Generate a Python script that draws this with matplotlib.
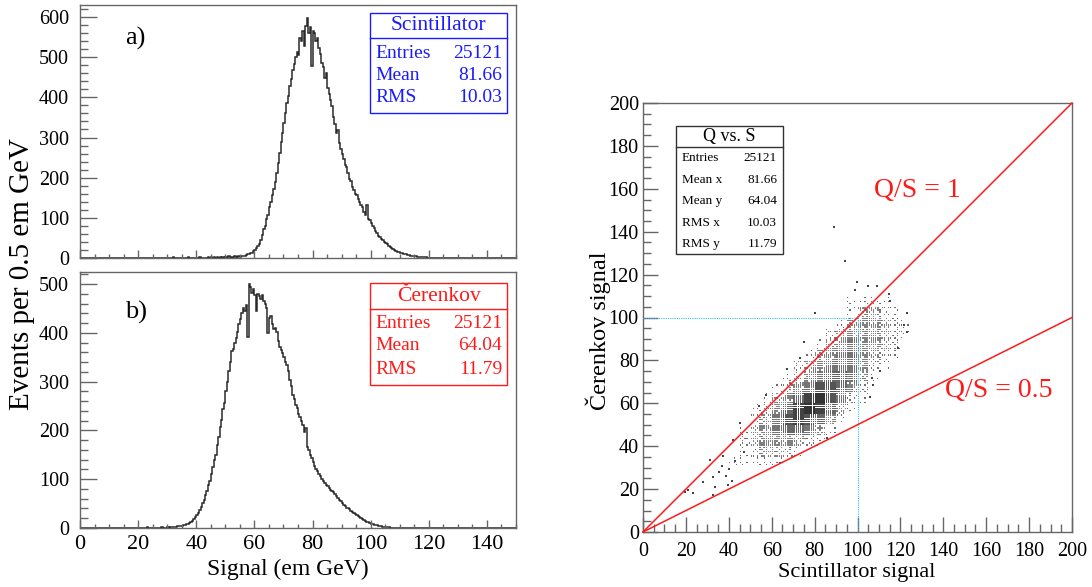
import numpy as np
import matplotlib
matplotlib.use("Agg")
import matplotlib.pyplot as plt
from matplotlib.patches import Rectangle
from matplotlib.lines import Line2D
from matplotlib.ticker import MultipleLocator

plt.rcParams['font.family'] = ['Liberation Serif', 'DejaVu Serif']

W, H = 1092, 587
BIN = 0.5

# ---- Scintillator signal: events per 0.5 GeV bin, first bin at 55.0 GeV ----
scint_start = 55.0
scint_counts = [
    3, 5, 6, 5, 8, 9, 10, 12, 13, 17,
    19, 24, 30, 36, 46, 58, 72, 80, 96, 108,
    126, 140, 158, 172, 190, 212, 236, 262, 288, 312,
    336, 362, 386, 404, 428, 446, 468, 482, 500, 512,
    505, 548, 540, 566, 528, 578, 598, 560, 576, 478,
    566, 560, 540, 548, 522, 508, 486, 476, 448, 460,
    424, 408, 394, 378, 352, 334, 312, 318, 286, 272,
    258, 246, 232, 226, 212, 196, 192, 176, 170, 160,
    156, 148, 140, 132, 126, 114, 108, 132, 98, 94,
    86, 80, 74, 68, 62, 56, 52, 48, 44, 40,
    38, 34, 30, 27, 25, 22, 20, 18, 16, 14,
    13, 12, 11, 10, 9, 8, 7, 6, 5, 5,
    4, 4, 3, 3, 3, 2, 2, 2, 2, 1,
    1, 1]
scint_tail_x = [20, 23, 27, 30, 32, 35, 37, 39, 41, 42, 44, 45, 46, 47, 48,
                49, 50, 51, 52, 53, 54, 54.5, 121.5, 123, 126, 131]
scint_tail_n = [1, 1, 1, 1, 2, 1, 2, 1, 2, 1, 2, 3, 2, 3, 2,
                3, 3, 4, 3, 4, 3, 4, 1, 1, 1, 1]

# ---- Cerenkov signal: events per 0.5 GeV bin, first bin at 30.0 GeV ----
cer_start = 30.0
cer_counts = [
    2, 1, 2, 2, 3, 2, 3, 4, 4, 4,
    5, 6, 7, 8, 9, 11, 13, 15, 18, 22,
    26, 30, 36, 44, 52, 58, 68, 76, 88, 96,
    110, 126, 140, 150, 170, 186, 208, 222, 244, 256,
    280, 300, 322, 340, 362, 368, 380, 390, 402, 418,
    428, 440, 452, 446, 458, 392, 500, 494, 482, 490,
    478, 446, 480, 476, 470, 478, 466, 460, 452, 400,
    430, 434, 418, 408, 410, 402, 384, 372, 366, 358,
    350, 340, 334, 322, 304, 292, 272, 264, 252, 246,
    234, 228, 220, 212, 196, 206, 166, 160, 150, 144,
    136, 128, 122, 116, 110, 106, 100, 96, 92, 88,
    86, 82, 78, 76, 74, 70, 66, 62, 58, 56,
    52, 48, 46, 42, 40, 38, 35, 32, 30, 28,
    26, 24, 22, 20, 18, 16, 15, 13, 12, 10,
    9, 8, 7, 7, 6, 5, 4, 4, 3, 3,
    2, 2, 2, 1, 1, 1]
cer_tail_x = [2, 5, 8, 10, 15, 17, 19, 21, 23, 25, 26, 28, 29,
              108.5, 110, 112, 114, 118, 122, 127, 131, 135, 142, 146]
cer_tail_n = [1, 1, 1, 1, 1, 1, 1, 1, 2, 1, 1, 2, 1,
              1, 1, 1, 1, 1, 1, 1, 1, 1, 1, 1]

scint_stats = [("Entries", "25121"), ("Mean", "81.66"), ("RMS", "10.03")]
cer_stats = [("Entries", "25121"), ("Mean", "64.04"), ("RMS", "11.79")]
qs_stats = [("Entries", "25121"), ("Mean x", "81.66"), ("Mean y", "64.04"),
            ("RMS x", "10.03"), ("RMS y", "11.79")]

# ---- Q vs S: occupancy level (0-9) of 5x5 GeV cells ----
# rows run from Q-cell bottom edge 110 down to 30; columns start at S = 40
density_x0 = 40.0
density_y_top = 110.0
density_rows = [
    "00000000000000000",
    "00000000000111100",
    "00000000000133210",
    "00000000001344321",
    "00000000023444321",
    "00000000134544320",
    "00000001345543210",
    "00000023455542100",
    "00000124566531000",
    "00001245776420000",
    "00013468975210000",
    "00124689863100000",
    "00235787641000000",
    "01345665310000000",
    "02344432100000000",
    "01233210000000000",
    "11111000000000000",
]
# isolated events outside the main cloud (S, Q)
iso_s = [19.6, 21.0, 23.2, 28.1, 33.6, 32.8, 39.8, 41.5, 31.2, 32.8, 35.5, 36.8,
         38.5, 40.0, 43.0, 42.1, 45.2, 47.0, 37.5, 54.2, 63.9, 67.0, 73.2, 80.2,
         85.6, 89.0, 94.2, 98.8, 99.6, 105.0, 109.0, 114.8, 115.0, 122.9, 123.2,
         121.5, 105.8, 106.6, 107.4, 110.5, 119.0, 75.0, 57.5]
iso_q = [18.5, 19.8, 18.3, 23.5, 21.1, 17.2, 21.9, 24.0, 33.6, 25.8, 28.0, 31.0,
         26.0, 29.5, 33.0, 42.9, 51.0, 37.5, 35.5, 58.9, 32.0, 75.8, 81.0, 102.0,
         43.7, 142.3, 126.5, 112.8, 116.4, 114.8, 114.8, 110.8, 107.5, 102.0, 93.4,
         96.5, 63.1, 71.7, 68.5, 75.0, 86.0, 88.5, 64.0]

qs_ratios = [1.0, 0.5]
qs_labels = ["Q/S = 1", "Q/S = 0.5"]
ref_level = 100.0


def full_hist(start, counts, tail_x, tail_n):
    edges = np.arange(0.0, 150.0 + BIN / 2, BIN)
    h = np.zeros(len(edges) - 1)
    i0 = int(round(start / BIN))
    h[i0:i0 + len(counts)] += np.asarray(counts, float)
    for x, n in zip(tail_x, tail_n):
        h[int(round(x / BIN))] += n
    return edges, h


def px_rect(px0, py0, px1, py1):
    return [px0 / W, 1 - py1 / H, (px1 - px0) / W, (py1 - py0) / H]


def fig_xy(px, py):
    return px / W, 1 - py / H


fig = plt.figure(figsize=(W / 100, H / 100), dpi=100)

FRAME = '#666666'


def style_axis(ax, xmaj, xmin, ymaj, ymin, xlen, ylen, xfs, yfs, xpad, ypad):
    for s in ax.spines.values():
        s.set_color(FRAME)
        s.set_linewidth(1.0)
    ax.xaxis.set_major_locator(MultipleLocator(xmaj))
    ax.xaxis.set_minor_locator(MultipleLocator(xmin))
    ax.yaxis.set_major_locator(MultipleLocator(ymaj))
    ax.yaxis.set_minor_locator(MultipleLocator(ymin))
    ax.tick_params(axis='x', which='major', direction='in', length=xlen, width=1.0,
                   color=FRAME, labelsize=xfs, pad=xpad)
    ax.tick_params(axis='x', which='minor', direction='in', length=xlen / 2, width=1.0,
                   color=FRAME)
    ax.tick_params(axis='y', which='major', direction='in', length=ylen, width=1.0,
                   color=FRAME, labelsize=yfs, pad=ypad)
    ax.tick_params(axis='y', which='minor', direction='in', length=ylen / 2, width=1.0,
                   color=FRAME)


def stat_box(x0, y0, x1, ydiv, y1, title, title_y, rows, row_y, tx0, tx1,
             color, title_fs, row_fs, edge):
    fig.add_artist(Rectangle(fig_xy(x0, y1), (x1 - x0) / W, (y1 - y0) / H,
                             transform=fig.transFigure, fill=True, facecolor='white',
                             edgecolor=edge, lw=1.0))
    fig.add_artist(Line2D([x0 / W, x1 / W], [1 - ydiv / H, 1 - ydiv / H],
                          transform=fig.transFigure, color=edge, lw=1.0))
    fig.text(*fig_xy((x0 + x1) / 2, title_y), title, ha='center', va='center',
             fontsize=title_fs, color=color)
    for (k, v), yy in zip(rows, row_y):
        fig.text(*fig_xy(tx0, yy), k, ha='left', va='center', fontsize=row_fs, color=color)
        fig.text(*fig_xy(tx1, yy), v, ha='right', va='center', fontsize=row_fs, color=color)


# ---- top: scintillator ----
ax1 = fig.add_axes(px_rect(80, 5, 516, 258))
e, h = full_hist(scint_start, scint_counts, scint_tail_x, scint_tail_n)
ax1.stairs(h, e, color='#2a2a2a', lw=1.1)
ax1.set_xlim(0, 150)
ax1.set_ylim(0, 630)
style_axis(ax1, 20, 5, 100, 20, 6, 12, 16, 14.5, 6, 8)
ax1.tick_params(axis='x', labelbottom=False)
fig.text(*fig_xy(135, 38), "a)", ha='center', va='center', fontsize=19)

# ---- bottom: cerenkov ----
ax2 = fig.add_axes(px_rect(80, 272, 516, 528))
e, h = full_hist(cer_start, cer_counts, cer_tail_x, cer_tail_n)
ax2.stairs(h, e, color='#2a2a2a', lw=1.1)
ax2.set_xlim(0, 150)
ax2.set_ylim(0, 525)
style_axis(ax2, 20, 5, 100, 20, 6, 12, 16, 14.5, 5, 8)
fig.text(*fig_xy(136, 312), "b)", ha='center', va='center', fontsize=19)

BLUE = '#1a1aff'
RED = '#ff1a1a'
stat_box(370, 13, 507, 38, 113, "Scintillator", 26, scint_stats, [53, 76, 98],
         375, 502, BLUE, 15.5, 14, BLUE)
stat_box(370, 283, 507, 309, 385, "Čerenkov", 297, cer_stats, [323, 346, 370],
         375, 502, RED, 15.5, 14, RED)

fig.text(*fig_xy(22, 274), "Events per 0.5 em GeV", rotation=90, ha='center',
         va='center', fontsize=21)
fig.text(*fig_xy(288, 569), "Signal (em GeV)", ha='center', va='center', fontsize=17)

# ---- right: Q vs S ----
ax3 = fig.add_axes(px_rect(643, 103, 1072, 532))
ax3.set_xlim(0, 200)
ax3.set_ylim(0, 200)
style_axis(ax3, 20, 5, 20, 5, 11, 11, 14.5, 14.5, 7, 3)

OCC = {1: 0.16, 2: 0.36, 3: 0.6, 4: 0.84}
GRAY = {1: 0.42, 2: 0.45, 3: 0.5, 4: 0.5, 5: 0.46, 6: 0.4, 7: 0.33, 8: 0.26, 9: 0.2}
SIDE = {1: 1.2, 2: 1.3, 3: 1.4, 4: 1.45, 5: 1.5, 6: 1.6, 7: 1.75, 8: 1.9, 9: 2.0}
DITHER = [[0, 12, 3, 15, 7],
          [18, 9, 21, 5, 23],
          [4, 16, 1, 13, 10],
          [22, 6, 19, 8, 20],
          [11, 24, 14, 2, 17]]
cell = 5
pts_x, pts_y, pts_s, pts_c = [], [], [], []
for r, row in enumerate(density_rows):
    y0 = density_y_top - r * cell
    for c, ch in enumerate(row):
        lev = int(ch)
        if lev == 0:
            continue
        x0 = density_x0 + c * cell
        n = round(25 * OCC.get(lev, 1.0))
        g = GRAY[lev]
        for i in range(cell):
            for j in range(cell):
                if DITHER[(j + 3 * r) % 5][(i + 2 * c) % 5] < n:
                    pts_x.append(x0 + i + 0.5)
                    pts_y.append(y0 + j + 0.5)
                    pts_s.append((SIDE[lev] * 0.72) ** 2)
                    pts_c.append((g, g, g))
ax3.scatter(pts_x, pts_y, s=pts_s, c=pts_c, marker='s', linewidths=0, zorder=2)
ax3.scatter(iso_s, iso_q, s=(1.2 * 0.72) ** 2, c='#444444', marker='s',
            linewidths=0, zorder=2)

xl = np.array([0.0, 200.0])
for r in qs_ratios:
    ax3.plot(xl, xl * r, color=RED, lw=1.1, zorder=4, clip_on=False)
ax3.plot([0, ref_level], [ref_level, ref_level], color='#33bbee', lw=0.8,
         ls=(0, (1, 1)), zorder=3)
ax3.plot([ref_level, ref_level], [0, ref_level], color='#33bbee', lw=0.8,
         ls=(0, (1, 1)), zorder=3)
ax3.text(128, 159.4, qs_labels[0], ha='center', va='center', fontsize=20, color=RED)
ax3.text(166, 66, qs_labels[1], ha='center', va='center', fontsize=20, color=RED)

stat_box(676, 126, 783, 147, 254, "Q vs. S", 137, qs_stats,
         [158, 180, 201, 223, 244], 682, 777, 'black', 13, 9.5, '#333333')

fig.text(*fig_xy(857, 572), "Scintillator signal", ha='center', va='center', fontsize=16)
fig.text(*fig_xy(598, 331), "Čerenkov signal", rotation=90, ha='center',
         va='center', fontsize=17.5)

fig.savefig("out.png", dpi=100, facecolor='white')
